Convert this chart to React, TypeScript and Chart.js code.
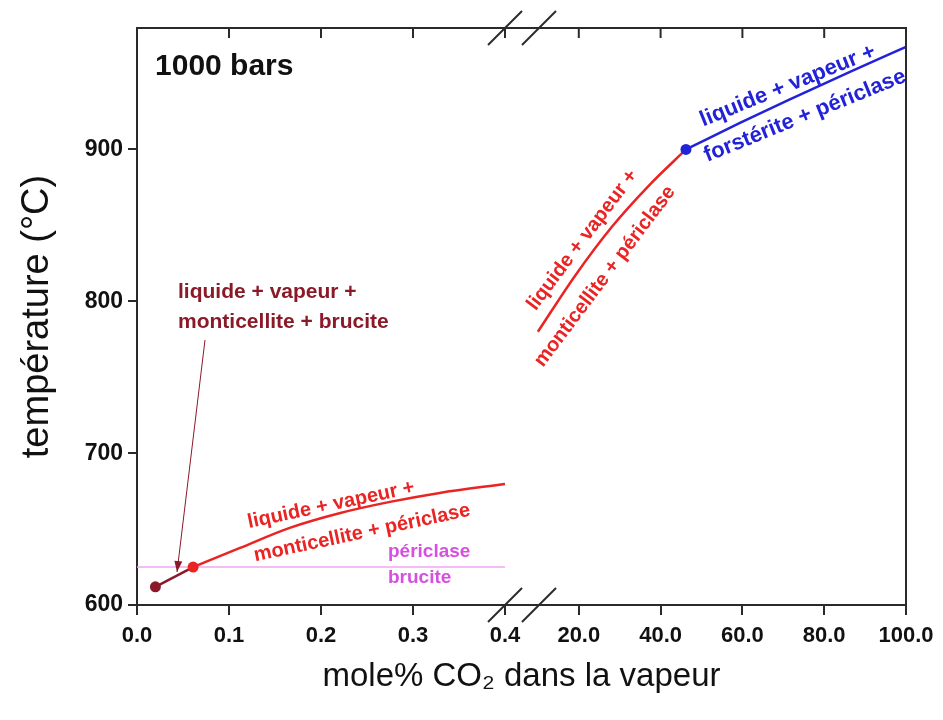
import { useEffect, useRef } from "react";
import { Chart, registerables } from "chart.js";

Chart.register(...registerables);

// ---------- data ----------
const LEFT_TICKS = [0, 0.1, 0.2, 0.3, 0.4];
const LEFT_TICK_LABELS = ["0.0", "0.1", "0.2", "0.3", "0.4"];
const RIGHT_TICKS = [20, 40, 60, 80, 100];
const RIGHT_TICK_LABELS = ["20.0", "40.0", "60.0", "80.0", "100.0"];
const Y_TICKS = [600, 700, 800, 900];

// liquide + vapeur + monticellite + brucite (left segment)
const BRUCITE_X = [0.02, 0.061];
const BRUCITE_T = [612, 625];
// liquide + vapeur + monticellite + périclase (left segment)
const PERI_LOW_X = [0.061, 0.112, 0.166, 0.221, 0.275, 0.329, 0.4];
const PERI_LOW_T = [625, 637.6, 650.8, 660.6, 667.9, 673.8, 679.7];
// périclase / brucite reaction (left segment)
const REACTION_X = [0, 0.4];
const REACTION_T = [625, 625];
// liquide + vapeur + monticellite + périclase (right segment)
const PERI_HIGH_X = [10, 19.1, 28.1, 37.2, 46.2];
const PERI_HIGH_T = [780, 816.9, 849.1, 876.4, 900];
// liquide + vapeur + forstérite + périclase (right segment)
const FORST_X = [46.2, 59.4, 71.6, 86.3, 100];
const FORST_T = [900, 917.5, 933, 951.1, 967.6];

// ---------- broken x axis: each segment maps onto a virtual axis ----------
const SEGMENTS: Record<string, { d0: number; d1: number; u0: number; u1: number }> = {
  left: { d0: 0, d1: 0.4, u0: 0, u1: 368 },
  right: { d0: 0, d1: 100, u0: 360, u1: 769 },
};
const X_SPAN = 769;
const BREAKS_U = [368, 402];

const toU = (seg: string, v: number) => {
  const s = SEGMENTS[seg];
  return s.u0 + ((v - s.d0) / (s.d1 - s.d0)) * (s.u1 - s.u0);
};
const pts = (seg: string, xs: number[], ys: number[]) =>
  xs.map((x, i) => ({ x: toU(seg, x), y: ys[i] }));

const X_TICK_VALUES = [
  ...LEFT_TICKS.map((v) => toU("left", v)),
  ...RIGHT_TICKS.map((v) => toU("right", v)),
];
const X_TICK_LABELS = [...LEFT_TICK_LABELS, ...RIGHT_TICK_LABELS];

// ---------- styles ----------
const FONT = '"Liberation Sans", Arial, Helvetica, sans-serif';
const RED = "#ea2323";
const DARK = "#8a1a28";
const BLUE = "#2222d8";
const MAGENTA_TEXT = "#d64fe0";
const MAGENTA_LINE = "#f2a6f2";
const AXIS = "#2a2a2a";

type Note = {
  text: string;
  seg: string;
  x: number;
  y: number;
  rot: number;
  color: string;
  size: number;
  align: CanvasTextAlign;
};

const NOTES: Note[] = [
  { text: "1000 bars", seg: "left", x: 0.0196, y: 954.4, rot: 0, color: "#111", size: 30, align: "left" },
  { text: "liquide + vapeur +", seg: "left", x: 0.0446, y: 806.2, rot: 0, color: DARK, size: 21, align: "left" },
  { text: "monticellite + brucite", seg: "left", x: 0.0446, y: 786.4, rot: 0, color: DARK, size: 21, align: "left" },
  { text: "liquide + vapeur +", seg: "left", x: 0.211, y: 665.9, rot: -12, color: RED, size: 20, align: "center" },
  { text: "monticellite + périclase", seg: "left", x: 0.2446, y: 647.4, rot: -12, color: RED, size: 20, align: "center" },
  { text: "périclase", seg: "left", x: 0.2728, y: 634.9, rot: 0, color: MAGENTA_TEXT, size: 19, align: "left" },
  { text: "brucite", seg: "left", x: 0.2728, y: 617.8, rot: 0, color: MAGENTA_TEXT, size: 19, align: "left" },
  { text: "liquide + vapeur +", seg: "right", x: 20.9, y: 840.4, rot: -53, color: RED, size: 20, align: "center" },
  { text: "monticellite + périclase", seg: "right", x: 26.4, y: 816.4, rot: -53, color: RED, size: 20, align: "center" },
  { text: "liquide + vapeur +", seg: "right", x: 71.1, y: 941.9, rot: -22, color: BLUE, size: 22, align: "center" },
  { text: "forstérite + périclase", seg: "right", x: 75.3, y: 922.1, rot: -22, color: BLUE, size: 22, align: "center" },
];

const ARROW = { seg: "left", x0: 0.0739, y0: 774.5, x1: 0.0435, y1: 621.7 };

const decorPlugin = {
  id: "decor",
  afterDatasetsDraw(chart: any) {
    const { ctx, scales } = chart;
    const xs = scales.x;
    const ys = scales.y;
    const px = (seg: string, v: number) => xs.getPixelForValue(toU(seg, v));
    const py = (v: number) => ys.getPixelForValue(v);

    ctx.save();
    // arrow
    const ax0 = px(ARROW.seg, ARROW.x0);
    const ay0 = py(ARROW.y0);
    const ax1 = px(ARROW.seg, ARROW.x1);
    const ay1 = py(ARROW.y1);
    ctx.strokeStyle = DARK;
    ctx.fillStyle = DARK;
    ctx.lineWidth = 1;
    ctx.beginPath();
    ctx.moveTo(ax0, ay0);
    ctx.lineTo(ax1, ay1);
    ctx.stroke();
    const ang = Math.atan2(ay1 - ay0, ax1 - ax0);
    const hl = 11;
    const hw = 4;
    ctx.beginPath();
    ctx.moveTo(ax1, ay1);
    ctx.lineTo(ax1 - hl * Math.cos(ang) + hw * Math.sin(ang), ay1 - hl * Math.sin(ang) - hw * Math.cos(ang));
    ctx.lineTo(ax1 - hl * Math.cos(ang) - hw * Math.sin(ang), ay1 - hl * Math.sin(ang) + hw * Math.cos(ang));
    ctx.closePath();
    ctx.fill();

    // notes
    for (const n of NOTES) {
      ctx.save();
      ctx.translate(px(n.seg, n.x), py(n.y));
      ctx.rotate((n.rot * Math.PI) / 180);
      ctx.font = `bold ${n.size}px ${FONT}`;
      ctx.fillStyle = n.color;
      ctx.textAlign = n.align;
      ctx.textBaseline = "middle";
      ctx.fillText(n.text, 0, 0);
      ctx.restore();
    }
    ctx.restore();
  },
  afterDraw(chart: any) {
    const { ctx, chartArea, scales } = chart;
    const { left, right, top, bottom } = chartArea;
    const xs = scales.x;
    ctx.save();
    ctx.strokeStyle = AXIS;
    ctx.lineWidth = 2;
    ctx.beginPath();
    ctx.moveTo(left, top);
    ctx.lineTo(right, top);
    ctx.lineTo(right, bottom);
    ctx.stroke();
    // inward ticks on the top frame
    for (const v of X_TICK_VALUES) {
      const x = xs.getPixelForValue(v);
      if (x <= left + 1 || x >= right - 1) continue;
      ctx.beginPath();
      ctx.moveTo(x, top);
      ctx.lineTo(x, top + 10);
      ctx.stroke();
    }
    // axis-break marks
    const h = 17;
    for (const u of BREAKS_U) {
      const x = xs.getPixelForValue(u);
      for (const y of [top, bottom]) {
        ctx.beginPath();
        ctx.moveTo(x - h, y + h);
        ctx.lineTo(x + h, y - h);
        ctx.stroke();
      }
    }
    ctx.restore();
  },
};

export default function App() {
  const ref = useRef<HTMLCanvasElement | null>(null);

  useEffect(() => {
    document.body.style.margin = "0";
    const canvas = ref.current;
    if (!canvas) return;
    const chart = new Chart(canvas, {
      type: "line",
      data: {
        datasets: [
          {
            label: "brucite",
            data: pts("left", BRUCITE_X, BRUCITE_T),
            borderColor: DARK,
            borderWidth: 2.5,
            pointRadius: [5.5, 0],
            pointBackgroundColor: DARK,
            pointBorderWidth: 0,
            order: 2,
          },
          {
            label: "periclase-low",
            data: pts("left", PERI_LOW_X, PERI_LOW_T),
            borderColor: RED,
            borderWidth: 2.5,
            cubicInterpolationMode: "monotone",
            pointRadius: (c: any) => (c.dataIndex === 0 ? 5.5 : 0),
            pointBackgroundColor: RED,
            pointBorderWidth: 0,
            order: 1,
          },
          {
            label: "periclase-high",
            data: pts("right", PERI_HIGH_X, PERI_HIGH_T),
            borderColor: RED,
            borderWidth: 2.5,
            cubicInterpolationMode: "monotone",
            pointRadius: 0,
            order: 3,
          },
          {
            label: "forsterite",
            data: pts("right", FORST_X, FORST_T),
            borderColor: BLUE,
            borderWidth: 2.5,
            cubicInterpolationMode: "monotone",
            pointRadius: (c: any) => (c.dataIndex === 0 ? 5.5 : 0),
            pointBackgroundColor: BLUE,
            pointBorderWidth: 0,
            order: 1,
          },
          {
            label: "reaction",
            data: pts("left", REACTION_X, REACTION_T),
            borderColor: MAGENTA_LINE,
            borderWidth: 1.5,
            pointRadius: 0,
            order: 5,
          },
        ],
      },
      options: {
        responsive: false,
        animation: false,
        events: [],
        layout: { padding: { top: 28, right: 37, left: 0, bottom: 0 } },
        plugins: { legend: { display: false }, tooltip: { enabled: false } },
        scales: {
          x: {
            type: "linear",
            min: 0,
            max: X_SPAN,
            afterBuildTicks: (s: any) => {
              s.ticks = X_TICK_VALUES.map((v) => ({ value: v }));
            },
            afterFit: (s: any) => {
              s.height = 115;
            },
            ticks: {
              autoSkip: false,
              maxRotation: 0,
              padding: 8,
              color: "#111",
              font: { family: FONT, size: 22, weight: "bold" },
              callback: (_v: any, i: number) => X_TICK_LABELS[i],
            },
            grid: { drawOnChartArea: false, drawTicks: true, tickLength: 10, color: AXIS, lineWidth: 2 },
            border: { display: true, color: AXIS, width: 2 },
            title: {
              display: true,
              text: "mole% CO₂ dans la vapeur",
              color: "#111",
              font: { family: FONT, size: 33, weight: "normal", lineHeight: 1 },
              padding: { top: 0, bottom: 27 },
            },
          },
          y: {
            type: "linear",
            min: 600,
            max: 980,
            afterBuildTicks: (s: any) => {
              s.ticks = Y_TICKS.map((v) => ({ value: v }));
            },
            afterFit: (s: any) => {
              s.width = 137;
            },
            ticks: {
              padding: 5,
              color: "#111",
              font: { family: FONT, size: 23, weight: "bold" },
            },
            grid: { drawOnChartArea: false, drawTicks: true, tickLength: 9, color: AXIS, lineWidth: 2 },
            border: { display: true, color: AXIS, width: 2 },
            title: {
              display: true,
              text: "température (°C)",
              color: "#111",
              font: { family: FONT, size: 38, weight: "normal", lineHeight: 1 },
              padding: { top: 19, bottom: 0 },
            },
          },
        },
      },
      plugins: [decorPlugin],
    } as any);
    return () => chart.destroy();
  }, []);

  return (
    <div style={{ width: 943, height: 720 }}>
      <canvas ref={ref} width={943} height={720} style={{ display: "block" }} />
    </div>
  );
}
